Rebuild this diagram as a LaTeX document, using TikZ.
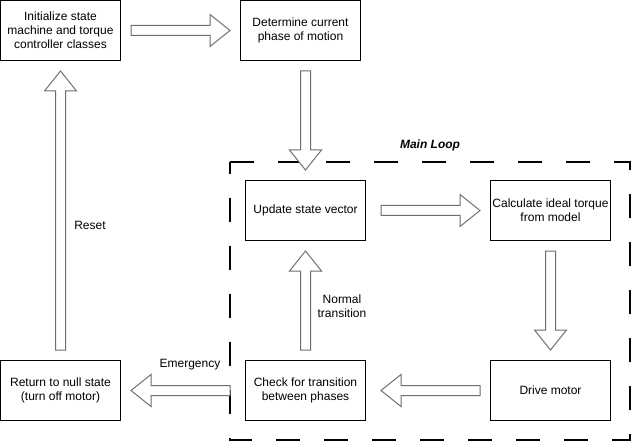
\documentclass[tikz,border=0pt]{standalone}
\usepackage{fontspec}
\setmainfont{Liberation Sans}
\usetikzlibrary{calc}
\definecolor{arrowgray}{RGB}{110,110,110}
\tikzset{
  box/.style={draw=black, line width=0.75pt, fill=white, minimum width=90pt, minimum height=45pt,
    inner sep=0pt, align=center, font=\fontsize{9}{10.5}\selectfont},
  lbl/.style={inner sep=0pt, align=center, font=\fontsize{9}{10.5}\selectfont},
  fat/.style={draw=arrowgray, line width=0.75pt, fill=white, line join=miter},
  loopframe/.style={draw=black, line width=1.5pt, dash pattern=on 18pt off 18pt}
}
% #1 start, #2 tip, #3 #4 unit direction (px, y down)
\newcommand\fatarrow[4]{%
  \draw[fat] ($(#1)+({-5*(#4)},{5*(#3)})$)
    -- ($(#2)+({-20*(#3)-5*(#4)},{-20*(#4)+5*(#3)})$)
    -- ($(#2)+({-20*(#3)-16*(#4)},{-20*(#4)+16*(#3)})$)
    -- (#2)
    -- ($(#2)+({-20*(#3)+16*(#4)},{-20*(#4)-16*(#3)})$)
    -- ($(#2)+({-20*(#3)+5*(#4)},{-20*(#4)-5*(#3)})$)
    -- ($(#1)+({5*(#4)},{-5*(#3)})$) -- cycle;}
\begin{document}
\begin{tikzpicture}[x=0.75pt,y=-0.75pt]
\useasboundingbox (0,0) rectangle (632,442);
\fill[white] (0,0) rectangle (632,442);
% main loop frame
\draw[loopframe] (230,162) -- (630,162) -- (630,440) -- (230,440) -- cycle;
\node[lbl, font=\fontsize{9}{10.5}\selectfont\bfseries\itshape] (ml) at (430,145) {Main Loop};
% boxes
\node[box] (init) at (60.5,30.5) {Initialize state\\machine and torque\\controller classes};
\node[box] (phase) at (300.5,30.5) {Determine current\\phase of motion};
\node[box] (upd) at (305.5,210.5) {Update state vector};
\node[box] (calc) at (550.5,210.5) {Calculate ideal torque\\from model};
\node[box] (drive) at (550.5,390.5) {Drive motor};
\node[box] (check) at (305.5,390.5) {Check for transition\\between phases};
\node[box] (ret) at (60.5,390.5) {Return to null state\\(turn off motor)};
% connector end points
\coordinate (a1s) at ($(init.east)+(10,0)$);
\coordinate (a1e) at ($(phase.west)+(-10,0)$);
\coordinate (a2s) at ($(phase.south)+(5,10)$);
\coordinate (a2e) at ($(upd.north)+(0,-10)$);
\coordinate (a3s) at ($(upd.east)+(15,0)$);
\coordinate (a3e) at ($(calc.west)+(-10,0)$);
\coordinate (a4s) at ($(calc.south)+(0,10)$);
\coordinate (a4e) at ($(drive.north)+(0,-10)$);
\coordinate (a5s) at ($(drive.west)+(-10,0)$);
\coordinate (a5e) at ($(check.east)+(15,0)$);
\coordinate (a6s) at ($(check.west)+(-15,0)$);
\coordinate (a6e) at ($(ret.east)+(10,0)$);
\coordinate (a7s) at ($(check.north)+(0,-10)$);
\coordinate (a7e) at ($(upd.south)+(0,10)$);
\coordinate (a8s) at ($(ret.north)+(0,-10)$);
\coordinate (a8e) at ($(init.south)+(0,10)$);
% arrows
\fatarrow{a1s}{a1e}{1}{0}
\fatarrow{a2s}{a2e}{0}{1}
\fatarrow{a3s}{a3e}{1}{0}
\fatarrow{a4s}{a4e}{0}{1}
\fatarrow{a5s}{a5e}{-1}{0}
\fatarrow{a6s}{a6e}{-1}{0}
\fatarrow{a7s}{a7e}{0}{-1}
\fatarrow{a8s}{a8e}{0}{-1}
% labels
\node[lbl] (reset) at (90,225) {Reset};
\node[lbl] (emer) at (190,365) {Emergency};
\node[lbl] (normal) at (342,306) {Normal\\transition};
\end{tikzpicture}
\end{document}
